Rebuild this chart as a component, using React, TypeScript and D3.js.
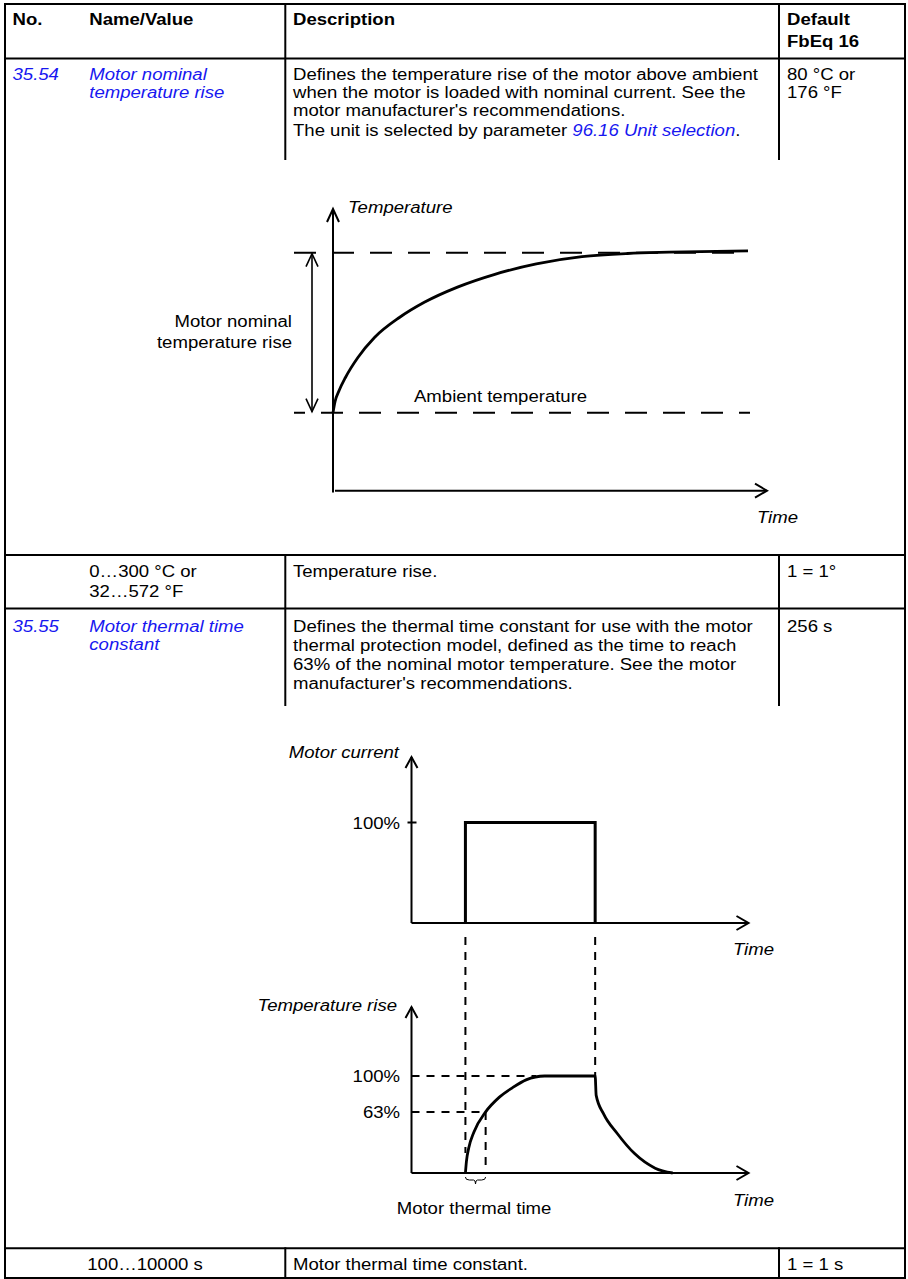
import React from "react";
import * as d3 from "d3";

const W = 908;
const H = 1279;
const SX = 1.16;
const BLUE = "#1717f0";
const FONT = "'Liberation Sans', Arial, Helvetica, sans-serif";

// ---- Diagram 1: motor temperature vs time (time in % of plotted span, rise as fraction of nominal)
const riseTime = [0, 0.5, 1.5, 3, 6, 10, 16, 22, 30, 39, 49, 60, 71, 81, 100];
const riseValue = [0, 0.07, 0.14, 0.22, 0.345, 0.47, 0.595, 0.69, 0.785, 0.865, 0.93, 0.975, 0.995, 1.003, 1.012];
const riseLevels = [0, 1]; // ambient, nominal

// ---- Diagram 2: motor current pulse
const pulseTimes = [16, 54.5];
const pulseLevel = 100;
const currentTicks = [100];

// ---- Diagram 3: temperature rise response
const tempTime = [16, 16.3, 17, 18.5, 22, 26, 30, 34, 39.5, 54.5, 54.8, 57, 61, 66.2, 72.3, 77.5];
const tempRise = [0, 12, 26, 42, 63, 78, 88, 96, 100, 100, 80, 61, 41, 20, 5, 0];
const tempTicks = [100, 63];
const tauTime = 22;

// ---- Table text
const headerCols = ["No.", "Name/Value", "Description", "Default"];
const row1Desc = [
  "Defines the temperature rise of the motor above ambient",
  "when the motor is loaded with nominal current. See the",
  "motor manufacturer's recommendations.",
];
const row3Desc = [
  "Defines the thermal time constant for use with the motor",
  "thermal protection model, defined as the time to reach",
  "63% of the nominal motor temperature. See the motor",
  "manufacturer's recommendations.",
];

type TP = {
  x: number;
  y: number;
  children?: React.ReactNode;
  anchor?: "start" | "middle" | "end";
  italic?: boolean;
  bold?: boolean;
  fill?: string;
  size?: number;
};
function T({ x, y, children, anchor = "start", italic, bold, fill = "#000", size = 16 }: TP) {
  return (
    <text
      transform={`translate(${x},${y}) scale(${SX},1)`}
      textAnchor={anchor}
      fontStyle={italic ? "italic" : "normal"}
      fontWeight={bold ? "bold" : "normal"}
      fill={fill}
      fontSize={size}
      fontFamily={FONT}
    >
      {children}
    </text>
  );
}

const upArrow = (x: number, y: number, dx = 6, dy = 13) =>
  `M${x - dx},${y + dy}L${x},${y}L${x + dx},${y + dy}`;
const downArrow = (x: number, y: number, dx = 6, dy = 13) =>
  `M${x - dx},${y - dy}L${x},${y}L${x + dx},${y - dy}`;
const rightArrow = (x: number, y: number, dx = 12, dy = 7) =>
  `M${x - dx},${y - dy}L${x},${y}L${x - dx},${y + dy}`;

export default function App() {
  // Diagram 1 scales
  const x1 = d3.scaleLinear().domain([0, 100]).range([333, 748]);
  const y1 = d3.scaleLinear().domain([0, 1]).range([412.7, 252.7]);
  const line1 = d3
    .line<number>()
    .x((_, i) => x1(riseTime[i]))
    .y((d) => y1(d))
    .curve(d3.curveMonotoneX);

  // Diagrams 2 & 3 scales
  const x2 = d3.scaleLinear().domain([0, 100]).range([411.5, 748.5]);
  const yC = d3.scaleLinear().domain([0, 100]).range([923, 822.5]);
  const yT = d3.scaleLinear().domain([0, 100]).range([1173, 1076]);
  const line3 = d3
    .line<number>()
    .x((_, i) => x2(tempTime[i]))
    .y((d) => yT(d))
    .curve(d3.curveMonotoneX);

  const pulsePath = `M${x2(pulseTimes[0])},${yC(0)}V${yC(pulseLevel)}H${x2(pulseTimes[1])}V${yC(0)}`;

  const tableLine = { stroke: "#000", strokeWidth: 2, fill: "none" };
  const ax = { stroke: "#000", strokeWidth: 2, fill: "none" };

  const xa = x2(pulseTimes[0]);
  const xb = x2(tauTime);
  const xm = (xa + xb) / 2;
  const braceY = yT(0) + 4;

  return (
    <svg
      width={W}
      height={H}
      viewBox={`0 0 ${W} ${H}`}
      style={{ position: "absolute", left: 0, top: 0, background: "#fff" }}
    >
      <rect x={0} y={0} width={W} height={H} fill="#fff" />

      {/* ---------- table grid ---------- */}
      <g {...tableLine} strokeLinecap="square">
        <line x1={5} y1={4} x2={905} y2={4} />
        <line x1={5} y1={4} x2={5} y2={1279} />
        <line x1={905} y1={4} x2={905} y2={1279} />
        <line x1={5} y1={58.5} x2={905} y2={58.5} />
        <line x1={5} y1={555} x2={905} y2={555} />
        <line x1={5} y1={608.5} x2={905} y2={608.5} />
        <line x1={5} y1={1248.3} x2={905} y2={1248.3} />
        <line x1={5} y1={1278} x2={905} y2={1278} />
        {[285.3, 779].map((x) => (
          <g key={x}>
            <line x1={x} y1={4} x2={x} y2={159} />
            <line x1={x} y1={555} x2={x} y2={705} />
            <line x1={x} y1={1248.3} x2={x} y2={1279} />
          </g>
        ))}
      </g>

      {/* ---------- header ---------- */}
      <T x={12.5} y={24.5} bold>{headerCols[0]}</T>
      <T x={89.3} y={24.5} bold>{headerCols[1]}</T>
      <T x={293} y={24.5} bold>{headerCols[2]}</T>
      <T x={787} y={24.5} bold>{headerCols[3]}</T>
      <T x={787} y={47} bold>FbEq 16</T>

      {/* ---------- row 35.54 ---------- */}
      <T x={12.5} y={79.5} italic fill={BLUE}>35.54</T>
      <T x={89.3} y={79.5} italic fill={BLUE}>Motor nominal</T>
      <T x={89.3} y={98} italic fill={BLUE}>temperature rise</T>
      {row1Desc.map((s, i) => (
        <T key={i} x={293} y={79.5 + i * 18}>{s}</T>
      ))}
      <text
        transform={`translate(293,136) scale(${SX},1)`}
        fontSize={16}
        fontFamily={FONT}
        fill="#000"
      >
        <tspan>The unit is selected by parameter </tspan>
        <tspan fill={BLUE} fontStyle="italic">96.16 Unit selection</tspan>
        <tspan>.</tspan>
      </text>
      <T x={787} y={79.5}>80 °C or</T>
      <T x={787} y={97.5}>176 °F</T>

      {/* ---------- diagram 1 ---------- */}
      <g {...ax}>
        <line x1={x1(0)} y1={492.5} x2={x1(0)} y2={209} />
        <path d={upArrow(x1(0), 209)} />
        <line x1={335} y1={490.7} x2={767} y2={490.7} />
        <path d={rightArrow(767, 490.7)} />
        {riseLevels.map((lv, i) => (
          <line
            key={lv}
            x1={294}
            x2={750}
            y1={y1(lv)}
            y2={y1(lv)}
            strokeDasharray="22,16"
            strokeDashoffset={i === 0 ? 11 : 0}
          />
        ))}
        <line x1={312} y1={y1(1) + 1} x2={312} y2={y1(0) - 1} strokeWidth={1.6} />
        <path d={upArrow(312, y1(1) + 1)} strokeWidth={1.6} />
        <path d={downArrow(312, y1(0) - 1)} strokeWidth={1.6} />
        <path d={line1(riseValue) || ""} strokeWidth={2.8} />
      </g>
      <T x={348} y={212.5} italic>Temperature</T>
      <T x={798} y={522.5} italic anchor="end">Time</T>
      <T x={292} y={326.5} anchor="end">Motor nominal</T>
      <T x={292} y={348} anchor="end">temperature rise</T>
      <T x={414} y={401.5}>Ambient temperature</T>

      {/* ---------- row 0...300 ---------- */}
      <T x={89.3} y={576.7}>0…300 °C or</T>
      <T x={89.3} y={596.7}>32…572 °F</T>
      <T x={293} y={576.7}>Temperature rise.</T>
      <T x={787} y={576.7}>1 = 1°</T>

      {/* ---------- row 35.55 ---------- */}
      <T x={12.5} y={631.5} italic fill={BLUE}>35.55</T>
      <T x={89.3} y={631.5} italic fill={BLUE}>Motor thermal time</T>
      <T x={89.3} y={650} italic fill={BLUE}>constant</T>
      {row3Desc.map((s, i) => (
        <T key={i} x={293} y={631.5 + i * 19}>{s}</T>
      ))}
      <T x={787} y={631.5}>256 s</T>

      {/* ---------- diagram 2: motor current ---------- */}
      <g {...ax}>
        <line x1={x2(0)} y1={yC(0)} x2={x2(0)} y2={757} />
        <path d={upArrow(x2(0), 757, 6, 11)} />
        <line x1={x2(0)} y1={yC(0)} x2={x2(100)} y2={yC(0)} />
        <path d={rightArrow(x2(100), yC(0), 12, 7)} />
        {currentTicks.map((t) => (
          <line key={t} x1={x2(0) - 4} x2={x2(0) + 5} y1={yC(t)} y2={yC(t)} />
        ))}
        <path d={pulsePath} strokeWidth={3} />
        {/* dashed projection lines */}
        <line x1={x2(pulseTimes[0])} x2={x2(pulseTimes[0])} y1={937} y2={1153} strokeDasharray="8,7" />
        <line x1={x2(pulseTimes[1])} x2={x2(pulseTimes[1])} y1={937} y2={yT(100)} strokeDasharray="8,7" />
      </g>
      <T x={399} y={758} italic anchor="end">Motor current</T>
      {currentTicks.map((t) => (
        <T key={t} x={400} y={yC(t) + 6} anchor="end">{`${t}%`}</T>
      ))}
      <T x={774} y={954.5} italic anchor="end">Time</T>

      {/* ---------- diagram 3: temperature rise ---------- */}
      <g {...ax}>
        <line x1={x2(0)} y1={yT(0)} x2={x2(0)} y2={1007} />
        <path d={upArrow(x2(0), 1007, 6, 11)} />
        <line x1={x2(0)} y1={yT(0)} x2={x2(100)} y2={yT(0)} />
        <path d={rightArrow(x2(100), yT(0), 12, 7)} />
        <line x1={x2(0)} x2={x2(37)} y1={yT(100)} y2={yT(100)} strokeDasharray="8,7" />
        <line x1={x2(0)} x2={x2(tauTime)} y1={yT(63)} y2={yT(63)} strokeDasharray="8,7" />
        <line x1={x2(tauTime)} x2={x2(tauTime)} y1={yT(63)} y2={yT(0)} strokeDasharray="8,7" />
        <path d={line3(tempRise) || ""} strokeWidth={2.8} />
        <path
          d={`M${xa},${braceY}Q${xa},${braceY + 3} ${xa + 4},${braceY + 3}H${xm - 2}Q${xm},${braceY + 3} ${xm},${braceY + 7}Q${xm},${braceY + 3} ${xm + 2},${braceY + 3}H${xb - 4}Q${xb},${braceY + 3} ${xb},${braceY}`}
          strokeWidth={1}
        />
      </g>
      <T x={397} y={1010.5} italic anchor="end">Temperature rise</T>
      {tempTicks.map((t) => (
        <T key={t} x={400} y={yT(t) + 6} anchor="end">{`${t}%`}</T>
      ))}
      <T x={774} y={1205.5} italic anchor="end">Time</T>
      <T x={474} y={1213.5} anchor="middle">Motor thermal time</T>

      {/* ---------- last row ---------- */}
      <T x={145} y={1270} anchor="middle">100…10000 s</T>
      <T x={293} y={1270}>Motor thermal time constant.</T>
      <T x={787} y={1270}>1 = 1 s</T>
    </svg>
  );
}
